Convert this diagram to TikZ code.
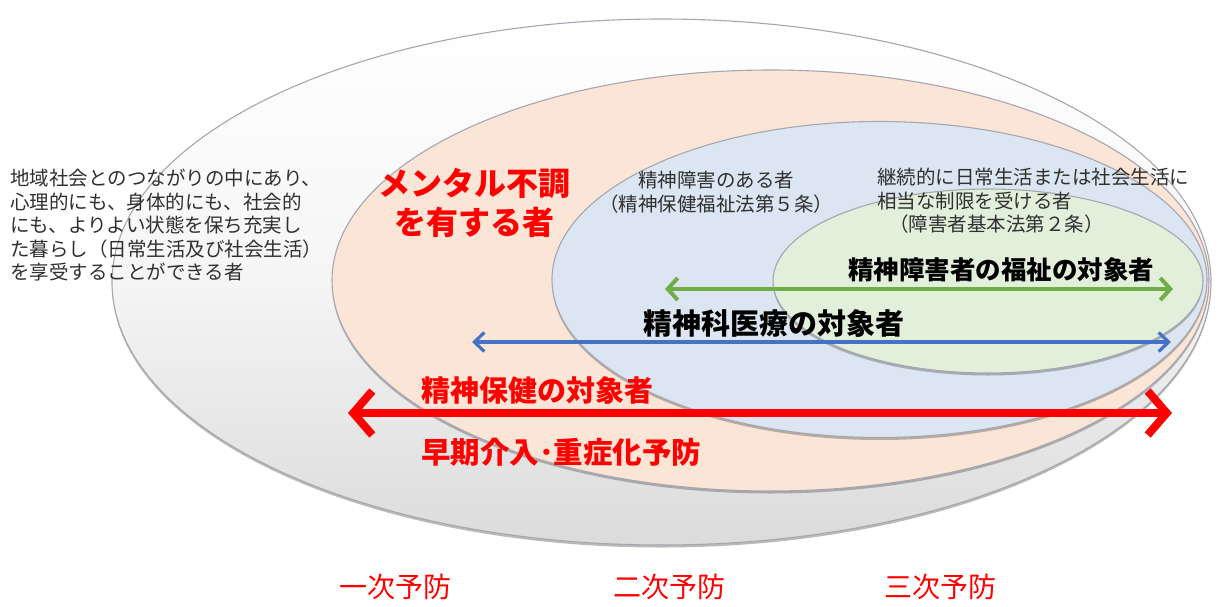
\documentclass[tikz,border=0pt]{standalone}
\usepackage{fontspec}
\setmainfont{Noto Sans CJK JP}
\usetikzlibrary{shapes.geometric,arrows.meta,shadows}
\definecolor{peach}{HTML}{FBE5D6}
\definecolor{lblue}{HTML}{DCE6F2}
\definecolor{lgreen}{HTML}{E2EFDA}
\definecolor{agreen}{HTML}{70AD47}
\definecolor{ablue}{HTML}{4472C4}
\definecolor{edge}{HTML}{A6A6B0}
\definecolor{txt}{HTML}{303030}
\begin{document}
\begin{tikzpicture}[x=1pt,y=-1pt,
  oval/.style={ellipse, inner sep=0pt, draw=edge, line width=1.1pt,
    drop shadow={shadow xshift=0pt, shadow yshift=-2.5pt, opacity=0.45, fill=black!60}},
  smalltxt/.style={text=txt, align=left, inner sep=0pt, font=\fontsize{19.5}{23.5}\selectfont},
  redbig/.style={text=red, inner sep=0pt, font=\bfseries\fontsize{29}{34}\selectfont},
  blackbig/.style={text=black, inner sep=0pt, font=\bfseries\fontsize{29}{34}\selectfont},
  prev/.style={text=red, inner sep=0pt, font=\fontsize{28}{32}\selectfont}
]
\useasboundingbox (0,0) rectangle (1224,606);
\fill[white] (0,0) rectangle (1224,606);

% ellipses
\node[oval, minimum width=1099pt, minimum height=526pt,
  top color=white, bottom color=black!14, middle color=white!96!black] (outer) at (661.5,282) {};
\node[oval, fill=peach, minimum width=877pt, minimum height=421pt] (mental) at (770.5,280.5) {};
\node[oval, fill=lblue, minimum width=655pt, minimum height=316pt] (psych) at (879.5,279.5) {};
\node[oval, fill=lgreen, minimum width=430pt, minimum height=184pt] (welfare) at (988,281) {};

% texts
\node[smalltxt, anchor=north west] (wellbeing) at (10,169) {地域社会とのつながりの中にあり、\\心理的にも、身体的にも、社会的\\にも、よりよい状態を保ち充実し\\た暮らし（日常生活及び社会生活）\\を享受することができる者};
\node[text=red, inner sep=0pt, align=center, font=\bfseries\fontsize{32}{39}\selectfont] (mentaltxt) at (474,203) {メンタル不調\\を有する者};
\node[smalltxt, align=center] (psychtxt) at (716,192) {精神障害のある者\\（精神保健福祉法第５条）};
\node[smalltxt, anchor=north west] (welfaretxt) at (877,168) {継続的に日常生活または社会生活に\\相当な制限を受ける者\\\hspace{12pt}（障害者基本法第２条）};

\node[blackbig, font=\bfseries\fontsize{25.5}{30}\selectfont, anchor=west] (welfarelbl) at (848,270) {精神障害者の福祉の対象者};
\node[blackbig, anchor=west] (medlbl) at (643,323) {精神科医療の対象者};
\node[redbig, anchor=west] (hlthlbl) at (421,390) {精神保健の対象者};
\node[redbig, font=\bfseries\fontsize{29.5}{34}\selectfont, anchor=west] (earlylbl) at (421,452) {早期介入･重症化予防};

\node[prev] (p1) at (395,587) {一次予防};
\node[prev] (p2) at (669,587) {二次予防};
\node[prev] (p3) at (940,587) {三次予防};

% arrows
\coordinate (g1) at (665,289); \coordinate (g2) at (1173,289);
\coordinate (b1) at (472,342); \coordinate (b2) at (1171,342);
\coordinate (r1) at (348,413); \coordinate (r2) at (1172,413);
\draw[agreen, line width=4pt, {Straight Barb[length=10pt,width=22pt]}-{Straight Barb[length=10pt,width=22pt]}] (g1) -- (g2);
\draw[ablue, line width=3.2pt, {Straight Barb[length=10pt,width=19pt]}-{Straight Barb[length=10pt,width=19pt]}] (b1) -- (b2);
\draw[red, line width=8pt, {Straight Barb[length=19pt,width=44pt]}-{Straight Barb[length=19pt,width=44pt]}] (r1) -- (r2);
\end{tikzpicture}
\end{document}
